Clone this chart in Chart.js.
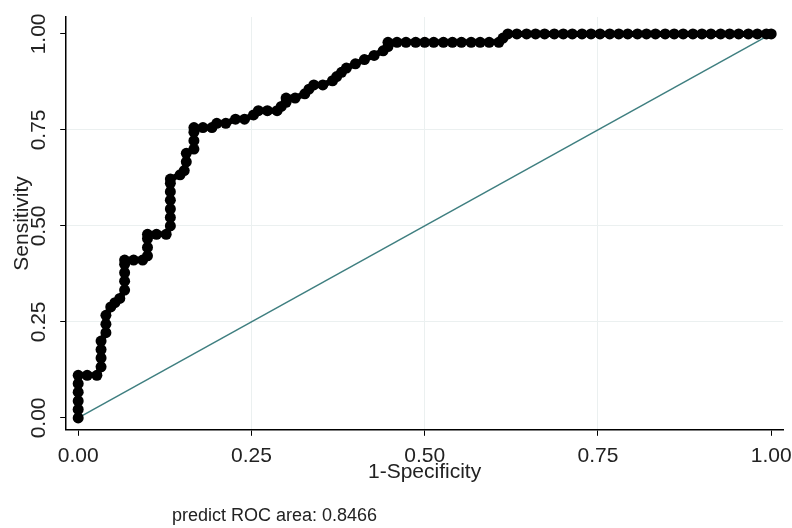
<!DOCTYPE html>
<html>
<head>
<meta charset="utf-8">
<script src="https://cdn.jsdelivr.net/npm/chart.js@4/dist/chart.umd.min.js"></script>
<style>
  html, body { margin: 0; padding: 0; background: #fff; }
  #wrap { width: 792px; height: 528px; }
</style>
</head>
<body>
<div id="wrap"><canvas id="rocChart" width="792" height="528"></canvas></div>
<script>
// ROC points (1-specificity, sensitivity)
const fpr = [
  0, 0, 0, 0, 0, 0, 0.013, 0.027,
  0.033, 0.033, 0.033, 0.033, 0.04, 0.04, 0.04,
  0.047, 0.053, 0.06, 0.067, 0.067, 0.067, 0.067, 0.067,
  0.08, 0.093, 0.1, 0.1, 0.1, 0.1, 0.113, 0.127,
  0.133, 0.133, 0.133, 0.133, 0.133, 0.133, 0.133,
  0.147, 0.153, 0.156, 0.156, 0.167, 0.167, 0.167, 0.167,
  0.18, 0.193, 0.2, 0.213, 0.227, 0.24, 0.253, 0.26, 0.273, 0.287,
  0.293, 0.3, 0.3, 0.313, 0.327, 0.333, 0.34, 0.353, 0.367, 0.373,
  0.38, 0.387, 0.4, 0.413, 0.427, 0.44, 0.447, 0.447,
  0.46, 0.473, 0.487, 0.5, 0.513, 0.527, 0.54, 0.553, 0.567, 0.58, 0.593, 0.607,
  0.613,
  0.62, 0.633, 0.647, 0.66, 0.673, 0.687, 0.7, 0.713, 0.727, 0.74,
  0.753, 0.767, 0.78, 0.793, 0.807, 0.82, 0.833, 0.847, 0.86, 0.873,
  0.887, 0.9, 0.913, 0.927, 0.94, 0.953, 0.967, 0.98, 0.993, 1
];
const sensitivity = [
  0, 0.022, 0.044, 0.067, 0.089, 0.111, 0.111, 0.111,
  0.133, 0.156, 0.178, 0.2, 0.222, 0.244, 0.267,
  0.289, 0.3, 0.311, 0.333, 0.356, 0.378, 0.4, 0.411,
  0.411, 0.411, 0.422, 0.444, 0.467, 0.478, 0.478, 0.478,
  0.5, 0.522, 0.544, 0.567, 0.589, 0.611, 0.622,
  0.633, 0.644, 0.667, 0.689, 0.7, 0.722, 0.744, 0.756,
  0.756, 0.756, 0.767, 0.767, 0.778, 0.778, 0.789, 0.8, 0.8, 0.8,
  0.811, 0.822, 0.833, 0.833, 0.844, 0.856, 0.867, 0.867, 0.878, 0.889,
  0.9, 0.911, 0.922, 0.933, 0.944, 0.956, 0.967, 0.978,
  0.978, 0.978, 0.978, 0.978, 0.978, 0.978, 0.978, 0.978, 0.978, 0.978, 0.978, 0.978,
  0.989,
  1, 1, 1, 1, 1, 1, 1, 1, 1, 1,
  1, 1, 1, 1, 1, 1, 1, 1, 1, 1,
  1, 1, 1, 1, 1, 1, 1, 1, 1, 1
];
const refX = [0, 1];
const refY = [0, 1];
const xTicks = [0, 0.25, 0.5, 0.75, 1];
const yTicks = [0, 0.25, 0.5, 0.75, 1];
const xTitle = '1-Specificity';
const areaNote = 'predict ROC area: 0.8466';

const FONT = "'Liberation Sans Narrow', 'Arial Narrow', 'Liberation Sans', sans-serif";
Chart.defaults.font.family = FONT;
Chart.defaults.color = '#222';

function gridColor(ctx) {
  const v = ctx.tick && ctx.tick.value;
  return (v === 0 || v === 1) ? 'rgba(0,0,0,0)' : '#ebf0f0';
}

// vertical y tick labels, the x title tucked under the ticks, and the note
const extraText = {
  id: 'extraText',
  afterDraw(chart) {
    const ctx = chart.ctx;
    const y = chart.scales.y;
    const area = chart.chartArea;
    ctx.save();
    ctx.fillStyle = '#222';
    ctx.font = '21px ' + FONT;
    ctx.textAlign = 'center';
    ctx.textBaseline = 'middle';
    yTicks.forEach((v) => {
      ctx.save();
      ctx.translate(39, y.getPixelForValue(v));
      ctx.rotate(-Math.PI / 2);
      ctx.fillText(v.toFixed(2), 0, 0);
      ctx.restore();
    });
    ctx.fillText(xTitle, (area.left + area.right) / 2, 472);
    ctx.font = '18px ' + FONT;
    ctx.textAlign = 'left';
    ctx.textBaseline = 'alphabetic';
    ctx.fillText(areaNote, 172, 521);
    ctx.restore();
  }
};

const ctx = document.getElementById('rocChart').getContext('2d');
new Chart(ctx, {
  type: 'scatter',
  data: {
    datasets: [
      {
        label: 'ROC',
        data: fpr.map((x, i) => ({ x: x, y: sensitivity[i] })),
        showLine: true,
        borderColor: '#000',
        backgroundColor: '#000',
        borderWidth: 6,
        pointRadius: 5.5,
        pointBorderWidth: 0,
        pointHoverRadius: 5.5,
        order: 1
      },
      {
        label: 'Reference',
        data: refX.map((x, i) => ({ x: x, y: refY[i] })),
        showLine: true,
        borderColor: '#3f7f80',
        borderWidth: 1.5,
        pointRadius: 0,
        order: 2
      }
    ]
  },
  options: {
    responsive: false,
    animation: false,
    layout: { padding: { left: 0, right: 9, top: 17, bottom: 51 } },
    plugins: {
      legend: { display: false },
      tooltip: { enabled: false }
    },
    scales: {
      x: {
        type: 'linear',
        min: -0.0173,
        max: 1.017,
        afterBuildTicks: (scale) => { scale.ticks = xTicks.map((v) => ({ value: v })); },
        afterFit: (scale) => { scale.paddingLeft = 0; scale.paddingRight = 0; },
        ticks: {
          font: { size: 21 },
          padding: 8,
          maxRotation: 0,
          callback: (v) => Number(v).toFixed(2)
        },
        grid: { color: gridColor, tickColor: '#000', tickLength: 6, lineWidth: 1 },
        border: { color: '#000', width: 1.5 }
      },
      y: {
        type: 'linear',
        min: -0.031,
        max: 1.044,
        afterBuildTicks: (scale) => { scale.ticks = yTicks.map((v) => ({ value: v })); },
        ticks: { display: false },
        grid: { color: gridColor, tickColor: '#000', tickLength: 6, lineWidth: 1 },
        border: { color: '#000', width: 1.5 },
        title: {
          display: true,
          text: 'Sensitivity',
          font: { size: 21 },
          padding: { top: 10, bottom: 25 }
        }
      }
    }
  },
  plugins: [extraText]
});
</script>
</body>
</html>
